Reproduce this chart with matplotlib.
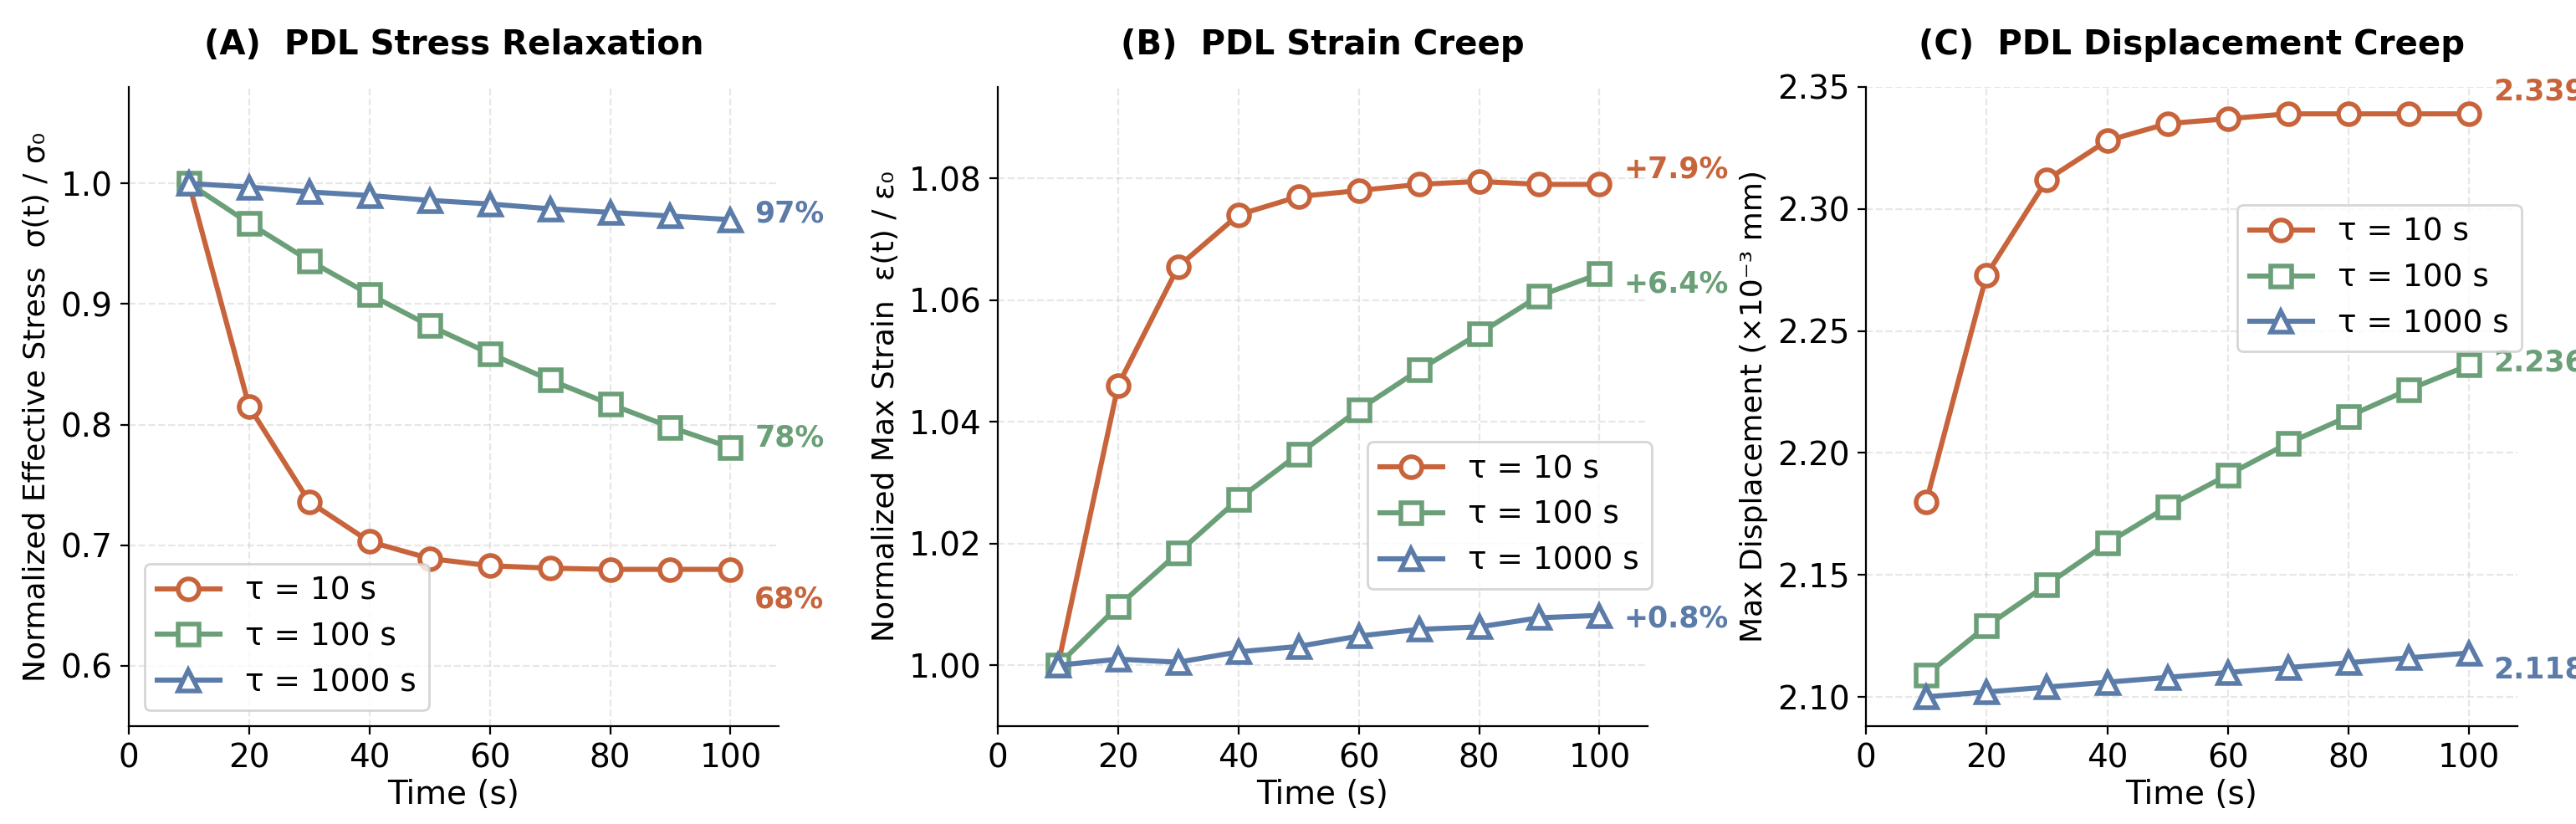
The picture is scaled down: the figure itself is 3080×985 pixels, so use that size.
import matplotlib.pyplot as plt

time = [10, 20, 30, 40, 50, 60, 70, 80, 90, 100]
tau_labels = ['τ = 10 s', 'τ = 100 s', 'τ = 1000 s']

stress_10 = [1.0, 0.815, 0.736, 0.703, 0.689, 0.683, 0.681, 0.680, 0.680, 0.680]
stress_100 = [1.0, 0.967, 0.936, 0.908, 0.882, 0.859, 0.837, 0.817, 0.798, 0.781]
stress_1000 = [1.0, 0.997, 0.993, 0.990, 0.986, 0.983, 0.979, 0.976, 0.973, 0.970]

strain_10 = [1.0, 1.046, 1.0655, 1.074, 1.077, 1.078, 1.079, 1.0795, 1.079, 1.079]
strain_100 = [1.0, 1.0097, 1.0185, 1.0273, 1.0347, 1.042, 1.0485, 1.0545, 1.0607, 1.0643]
strain_1000 = [1.0, 1.001, 1.0005, 1.0022, 1.0031, 1.0048, 1.0059, 1.0063, 1.0078, 1.0082]

disp_10 = [2.180, 2.273, 2.312, 2.328, 2.335, 2.337, 2.339, 2.339, 2.339, 2.339]
disp_100 = [2.109, 2.129, 2.146, 2.163, 2.178, 2.191, 2.204, 2.215, 2.226, 2.236]
disp_1000 = [2.100, 2.102, 2.104, 2.106, 2.108, 2.110, 2.112, 2.114, 2.116, 2.118]

end_labels_a = ['68%', '78%', '97%']
end_labels_b = ['+7.9%', '+6.4%', '+0.8%']
end_labels_c = ['2.339', '2.236', '2.118']

colors = ['#C8643B', '#6A9F78', '#5B7BA8']
markers = ['o', 's', '^']

fig = plt.figure(figsize=(15.4, 4.925), dpi=200)
boxes = [(154, 777), (1193, 777), (2231, 779)]
top_px, bottom_px = 104, 868
axes = []
for left, w in boxes:
    axes.append(fig.add_axes([left / 3080, 1 - bottom_px / 985, w / 3080, (bottom_px - top_px) / 985]))

panels = [
    (axes[0], [stress_10, stress_100, stress_1000], end_labels_a,
     '(A)  PDL Stress Relaxation', 'Normalized Effective Stress  σ(t) / σ₀',
     (0.55, 1.08), [0.6, 0.7, 0.8, 0.9, 1.0], '{:.1f}', [-0.025, 0.008, 0.005], 'lower left'),
    (axes[1], [strain_10, strain_100, strain_1000], end_labels_b,
     '(B)  PDL Strain Creep', 'Normalized Max Strain  ε(t) / ε₀',
     (0.99, 1.095), [1.00, 1.02, 1.04, 1.06, 1.08], '{:.2f}', [0.0025, -0.0017, -0.0005], 'center right'),
    (axes[2], [disp_10, disp_100, disp_1000], end_labels_c,
     '(C)  PDL Displacement Creep', 'Max Displacement (×10⁻³ mm)',
     (2.088, 2.35), [2.10, 2.15, 2.20, 2.25, 2.30, 2.35], '{:.2f}', [0.009, 0.001, -0.007], 'upper right'),
]

for ax, series, ends, title, ylabel, ylim, yticks, fmt, offs, loc in panels:
    for vals, c, m, lab, end, off in zip(series, colors, markers, tau_labels, ends, offs):
        ax.plot(time, vals, color=c, marker=m, markersize=9, markerfacecolor='white',
                markeredgewidth=2, linewidth=2.2, label=lab)
        ax.text(104, vals[-1] + off, end, color=c, fontsize=12.5, fontweight='bold',
                ha='left', va='center', clip_on=False)
    ax.set_xlim(0, 108)
    ax.set_ylim(*ylim)
    ax.set_xticks([0, 20, 40, 60, 80, 100])
    ax.set_yticks(yticks)
    ax.set_yticklabels([fmt.format(v) for v in yticks])
    ax.tick_params(labelsize=14)
    ax.grid(True, linestyle='--', alpha=0.3)
    ax.spines['top'].set_visible(False)
    ax.spines['right'].set_visible(False)
    ax.set_title(title, fontsize=14.5, fontweight='bold', pad=14)
    ax.set_xlabel('Time (s)', fontsize=14, labelpad=2)
    ax.set_ylabel(ylabel, fontsize=13)
    if loc == 'center right':
        ax.legend(loc='center right', bbox_to_anchor=(1.03, 0.33), fontsize=13.5)
    elif loc == 'upper right':
        ax.legend(loc='upper right', bbox_to_anchor=(1.03, 0.84), fontsize=13.5)
    else:
        ax.legend(loc=loc, fontsize=13.5)

fig.savefig('out.png', dpi=200)
